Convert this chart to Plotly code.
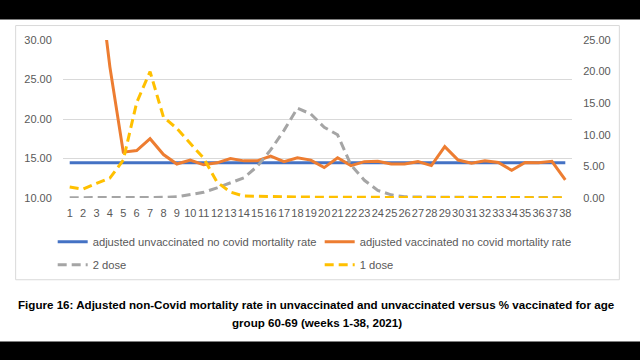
import plotly.graph_objects as go

weeks = list(range(1, 39))
week_labels = [str(w) for w in weeks]

unvacc_rate = [14.45] * 38

vacc_rate = [None, None, 40.5, 26.6, 15.8, 16.0, 17.5, 15.5, 14.3, 14.8,
             14.2, 14.45, 15.0, 14.7, 14.7, 15.3, 14.6, 15.1, 14.8, 13.85,
             15.1, 14.1, 14.6, 14.65, 14.3, 14.3, 14.6, 14.1, 16.5, 14.8,
             14.4, 14.7, 14.5, 13.5, 14.5, 14.45, 14.65, 12.3]

dose2 = [0.05, 0.05, 0.05, 0.05, 0.05, 0.05, 0.05, 0.1, 0.2, 0.5,
         0.9, 1.6, 2.4, 3.2, 5.0, 7.6, 10.7, 14.2, 13.3, 11.2,
         10.0, 5.2, 2.8, 1.2, 0.5, 0.2, 0.15, 0.1, 0.1, 0.1,
         0.1, 0.08, 0.08, 0.06, 0.05, 0.05, 0.05, 0.05]

dose1 = [1.75, 1.4, 2.3, 3.15, 6.0, 15.1, 20.0, 12.8, 11.0, 8.7,
         6.3, 2.5, 0.95, 0.3, 0.3, 0.3, 0.2, 0.15, 0.12, 0.1,
         0.1, 0.1, 0.1, 0.1, 0.1, 0.1, 0.08, 0.08, 0.08, 0.08,
         0.06, 0.06, 0.05, 0.05, 0.05, 0.05, 0.05, 0.05]

left_ticks = [10, 15, 20, 25, 30]
right_ticks = [0, 5, 10, 15, 20, 25]

FONT = "Liberation Sans"
GREY_TXT = "#595959"

fig = go.Figure()
fig.add_trace(go.Scatter(x=weeks, y=unvacc_rate, mode="lines",
                         name="adjusted unvaccinated no covid mortality rate",
                         line=dict(color="#4472C4", width=3), legend="legend"))
fig.add_trace(go.Scatter(x=weeks, y=vacc_rate, mode="lines",
                         name="adjusted vaccinated no covid mortality rate",
                         line=dict(color="#ED7D31", width=3), legend="legend"))
fig.add_trace(go.Scatter(x=weeks, y=dose2, mode="lines", name="2 dose", yaxis="y2",
                         line=dict(color="#A5A5A5", width=3, dash="9px,5px"), legend="legend2"))
fig.add_trace(go.Scatter(x=weeks, y=dose1, mode="lines", name="1 dose", yaxis="y2",
                         line=dict(color="#FFC000", width=3, dash="9px,5px"), legend="legend2"))

# plot area in pixels
L, R, T, B = 63.3, 571.7, 39.5, 198.0
W, H = R - L, B - T
def px(x):
    return (x - L) / W
def py(y):
    return (B - y) / H

legend_common = dict(orientation="h", xanchor="left", yanchor="middle",
                     font=dict(family=FONT, size=11.2, color=GREY_TXT),
                     entrywidth=222, entrywidthmode="pixels",
                     bgcolor="rgba(0,0,0,0)", itemclick=False)

fig.update_layout(
    width=640, height=360,
    margin=dict(l=L, r=640 - R, t=T, b=360 - B, autoexpand=False),
    paper_bgcolor="white", plot_bgcolor="white",
    font=dict(family=FONT, color=GREY_TXT),
    hovermode=False,
    xaxis=dict(range=[0.5, 38.5], tickmode="array", tickvals=weeks, ticktext=week_labels,
               tickangle=0, automargin=False,
               showgrid=False, zeroline=False, showline=False,
               ticks="outside", ticklen=5, tickcolor="rgba(0,0,0,0)",
               tickfont=dict(family=FONT, size=11, color=GREY_TXT)),
    yaxis=dict(range=[10, 30], tickmode="array", tickvals=left_ticks, tickformat=".2f",
               automargin=False,
               showgrid=True, gridcolor="#d9d9d9", gridwidth=1, zeroline=False,
               ticks="outside", ticklen=8, tickcolor="rgba(0,0,0,0)",
               tickfont=dict(family=FONT, size=11, color=GREY_TXT)),
    yaxis2=dict(range=[0, 25], tickmode="array", tickvals=right_ticks, tickformat=".2f",
                automargin=False,
                overlaying="y", side="right", showgrid=False, zeroline=False,
                ticks="outside", ticklen=8, tickcolor="rgba(0,0,0,0)",
                tickfont=dict(family=FONT, size=11, color=GREY_TXT)),
    legend=dict(x=px(53), y=py(242), **legend_common),
    legend2=dict(x=px(53), y=py(265), **legend_common),
    showlegend=True,
)

shapes = [
    dict(type="rect", xref="paper", yref="paper", x0=px(16), x1=px(619), y0=py(280), y1=py(25),
         line=dict(color="#d9d9d9", width=1), fillcolor="rgba(0,0,0,0)", layer="below"),
    dict(type="rect", xref="paper", yref="paper", x0=px(-5), x1=px(645), y0=py(19), y1=py(-5),
         line=dict(width=0), fillcolor="black", layer="above"),
    dict(type="rect", xref="paper", yref="paper", x0=px(-5), x1=px(645), y0=py(365), y1=py(342),
         line=dict(width=0), fillcolor="black", layer="above"),
]
fig.update_layout(shapes=shapes)

caption1 = "Figure 16: Adjusted non-Covid mortality rate in unvaccinated and unvaccinated versus % vaccinated for age"
caption2 = "group 60-69 (weeks 1-38, 2021)"
fig.add_annotation(text="<b>" + caption1 + "</b>", xref="paper", yref="paper",
                   x=px(317), y=py(305), showarrow=False, xanchor="center", yanchor="middle",
                   font=dict(family=FONT, size=11.6, color="black"))
fig.add_annotation(text="<b>" + caption2 + "</b>", xref="paper", yref="paper",
                   x=px(317), y=py(323), showarrow=False, xanchor="center", yanchor="middle",
                   font=dict(family=FONT, size=11.6, color="black"))

fig.write_html("out.html", config={"displayModeBar": False},
               post_script="document.body.style.margin='0px';")
